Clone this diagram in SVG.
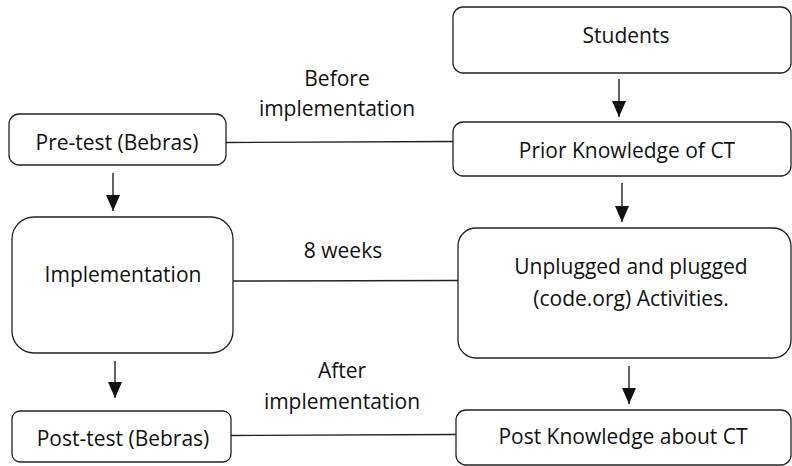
<svg xmlns="http://www.w3.org/2000/svg" width="792" height="466" viewBox="0 0 792 466">
<style>
.box{fill:#fff;stroke:#222;stroke-width:1.3}
.t{font-family:"Open Sans","Noto Sans","Liberation Sans",sans-serif;font-size:21px;fill:#111;text-anchor:middle}
.c{stroke:#222;stroke-width:1.4;fill:none}
</style>
<defs>
<marker id="ah" markerUnits="userSpaceOnUse" markerWidth="16" markerHeight="14" refX="16" refY="7" orient="auto">
<path d="M0,0 L16,7 L0,14 z" fill="#111"/>
</marker>
</defs>
<rect width="792" height="466" fill="#fff"/>
<g id="connectors">
<line class="c" x1="226" y1="142.5" x2="453" y2="141.5"/>
<line class="c" x1="233" y1="281" x2="458" y2="280.5"/>
<line class="c" x1="231" y1="435.5" x2="456" y2="434.5"/>
<line class="c" x1="619" y1="79" x2="619" y2="117" marker-end="url(#ah)"/>
<line class="c" x1="622" y1="183" x2="622" y2="222" marker-end="url(#ah)"/>
<line class="c" x1="629" y1="366" x2="629" y2="404" marker-end="url(#ah)"/>
<line class="c" x1="113" y1="173" x2="113" y2="211" marker-end="url(#ah)"/>
<line class="c" x1="115" y1="361" x2="115" y2="398" marker-end="url(#ah)"/>
<text class="t" x="337" y="86">Before</text>
<text class="t" x="337" y="116">implementation</text>
<text class="t" x="343" y="258">8 weeks</text>
<text class="t" x="342" y="378">After</text>
<text class="t" x="342" y="409">implementation</text>
</g>
<g id="students">
<rect class="box" x="453" y="7" width="338" height="66" rx="10"/>
<text class="t" x="626" y="43">Students</text>
</g>
<g id="prior">
<rect class="box" x="453" y="122" width="338" height="54" rx="10"/>
<text class="t" x="627" y="158">Prior Knowledge of CT</text>
</g>
<g id="activities">
<rect class="box" x="458" y="228" width="333" height="130" rx="18"/>
<text class="t" x="631" y="274">Unplugged and plugged</text>
<text class="t" x="631" y="306">(code.org) Activities.</text>
</g>
<g id="postknowledge">
<rect class="box" x="456" y="410" width="335" height="55" rx="10"/>
<text class="t" x="623" y="444">Post Knowledge about CT</text>
</g>
<g id="pretest">
<rect class="box" x="9" y="114" width="217" height="51" rx="10"/>
<text class="t" x="117" y="150">Pre-test (Bebras)</text>
</g>
<g id="implementation">
<rect class="box" x="12" y="217" width="221" height="136" rx="22"/>
<text class="t" x="123" y="282">Implementation</text>
</g>
<g id="posttest">
<rect class="box" x="12" y="411" width="219" height="51" rx="8"/>
<text class="t" x="123" y="446">Post-test (Bebras)</text>
</g>
</svg>
